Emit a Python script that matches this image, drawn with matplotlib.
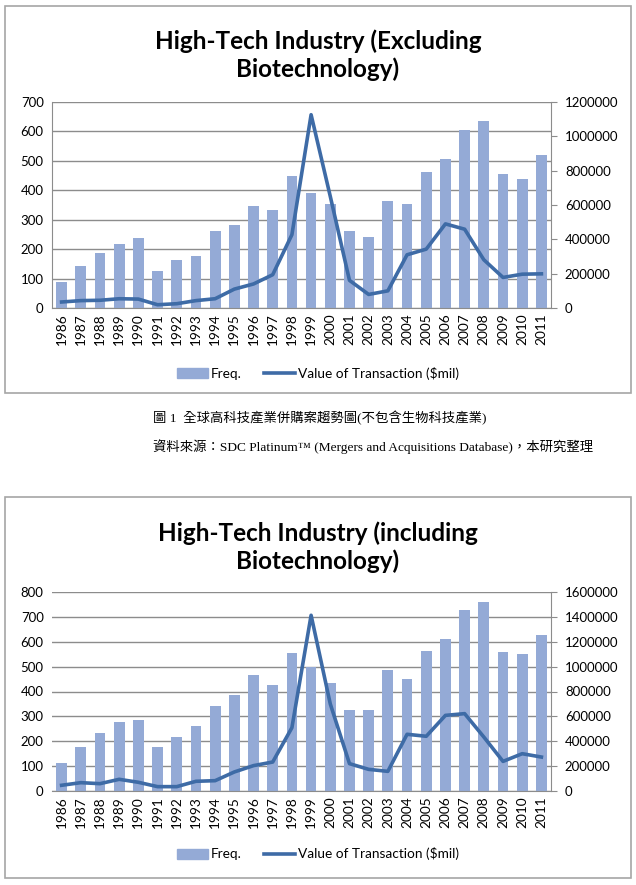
import matplotlib.pyplot as plt
from matplotlib.patches import Rectangle
from matplotlib.lines import Line2D

years = [str(y) for y in range(1986, 2012)]

# High-Tech excluding biotech
freq_excl = [90, 143, 188, 218, 238, 126, 164, 178, 263, 282, 346, 334, 450,
             390, 354, 260, 241, 364, 352, 461, 507, 605, 635, 457, 437, 519]
value_excl = [35000, 43000, 45000, 54000, 52000, 19000, 25000, 43000, 54000,
              110000, 140000, 194000, 427000, 1126000, 650000, 161000, 79000,
              100000, 310000, 343000, 490000, 459000, 281000, 178000, 197000,
              199000]

# High-Tech including biotech
freq_incl = [111, 178, 232, 279, 285, 176, 217, 263, 340, 386, 468, 426, 555,
             500, 436, 327, 324, 485, 450, 563, 610, 729, 759, 559, 550, 629]
value_incl = [46000, 67000, 59000, 94000, 70000, 35000, 35000, 78000, 83000,
              153000, 204000, 233000, 509000, 1413000, 700000, 220000, 174000,
              158000, 456000, 440000, 608000, 622000, 434000, 238000, 300000,
              273000]

titles = ["High-Tech Industry (Excluding\nBiotechnology)",
          "High-Tech Industry (including\nBiotechnology)"]
legend_labels = ["Freq.", "Value of Transaction ($mil)"]
caption1 = "圖 1  全球高科技產業併購案趨勢圖(不包含生物科技產業)"
caption2 = "資料來源：SDC Platinum™ (Mergers and Acquisitions Database)，本研究整理"

W, H = 636, 885
BAR = '#94AAD6'
LINE = '#3E6BA6'
GRID = '#8C8C8C'
FONT = ['Lato', 'DejaVu Sans']

fig = plt.figure(figsize=(W / 100, H / 100), dpi=100)


def px_axes(x0, y0, x1, y1):
    return fig.add_axes([x0 / W, 1 - y1 / H, (x1 - x0) / W, (y1 - y0) / H])


def panel(box, plot, title_y, legend_y, title, freq, value,
          ymax, ystep, y2max, y2step, left_spine):
    bx0, by0, bx1, by1 = box
    fig.patches.append(Rectangle((bx0 / W, 1 - by1 / H), (bx1 - bx0) / W,
                                 (by1 - by0) / H, transform=fig.transFigure,
                                 fill=False, ec='#A6A6A6', lw=1.2))
    ax = px_axes(*plot)
    x = list(range(len(years)))
    ax.bar(x, freq, width=0.56, color=BAR, zorder=2)
    ax.set_xlim(-0.5, len(years) - 0.5)
    ax.set_ylim(0, ymax)
    ticks = list(range(0, ymax + 1, ystep))
    ax.set_yticks(ticks)
    ax.set_yticklabels([str(t) for t in ticks], family=FONT, fontsize=9.5)
    ax.yaxis.grid(True, color=GRID, lw=1)
    ax.set_axisbelow(True)
    ax.set_xticks(x)
    ax.set_xticklabels(years, rotation=90, family=FONT, fontsize=9.8)
    ax.tick_params(axis='y', length=0, pad=6)
    ax.tick_params(axis='x', length=0, pad=4)
    for s in ['top', 'right']:
        ax.spines[s].set_visible(False)
    ax.spines['left'].set_visible(left_spine)
    ax.spines['left'].set_color(GRID)
    ax.spines['bottom'].set_color(GRID)

    ax2 = ax.twinx()
    ax2.plot(x, value, color=LINE, lw=2.6, zorder=3)
    ax2.set_ylim(0, y2max)
    t2 = list(range(0, y2max + 1, y2step))
    ax2.set_yticks(t2)
    ax2.set_yticklabels([str(t) for t in t2], family=FONT, fontsize=9.5)
    ax2.tick_params(axis='y', length=4, color=GRID, pad=6)
    for s in ['top', 'left', 'bottom']:
        ax2.spines[s].set_visible(False)
    ax2.spines['right'].set_color(GRID)

    fig.text(318 / W, 1 - title_y / H, title, ha='center', va='center',
             family=FONT, fontsize=17.5, fontweight='bold', linespacing=1.22)

    handles = [Rectangle((0, 0), 1, 1, color=BAR),
               Line2D([0], [0], color=LINE, lw=2.6)]
    fig.legend(handles, legend_labels, loc='center',
               bbox_to_anchor=(318 / W, 1 - legend_y / H), ncol=2,
               frameon=False, prop={'family': FONT, 'size': 9.8},
               handlelength=2.3, handletextpad=0.2, columnspacing=1.6)


panel((5, 6, 631, 393), (52, 102, 551, 308), 55, 373, titles[0],
      freq_excl, value_excl, 700, 100, 1200000, 200000, True)
panel((5, 497, 631, 878), (52, 592, 551, 791), 547, 854, titles[1],
      freq_incl, value_incl, 800, 100, 1600000, 200000, False)

cap_font = ['Liberation Serif', 'Noto Sans CJK TC']
fig.text(153 / W, 1 - 418 / H, caption1, ha='left', va='center',
         family=cap_font, fontsize=9.6)
fig.text(153 / W, 1 - 447 / H, caption2, ha='left', va='center',
         family=cap_font, fontsize=9.6)

fig.savefig('out.png', dpi=100)
